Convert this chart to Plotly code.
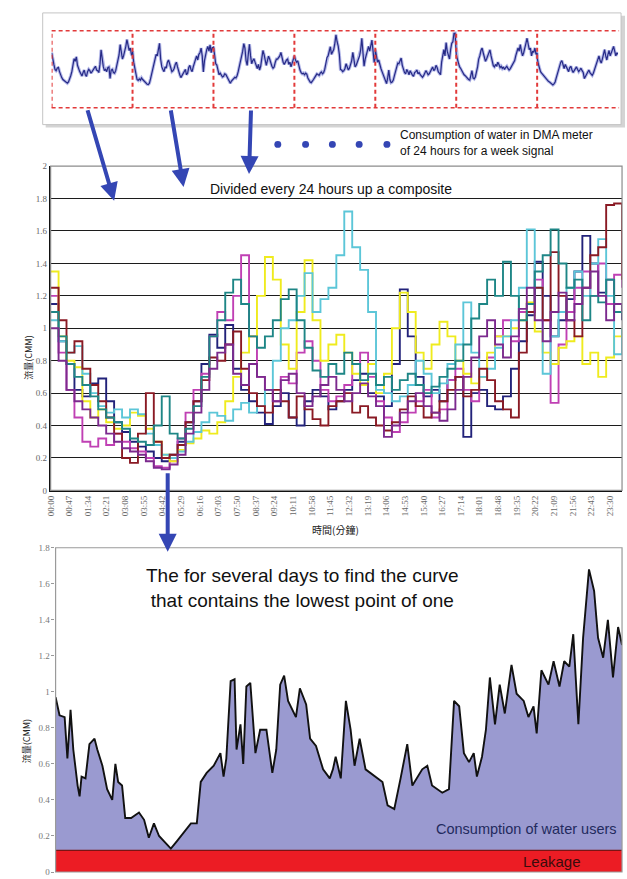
import plotly.graph_objects as go

W, H = 627, 879

# ---------------- data ----------------
# sample times within one day (minutes after midnight)
minutes = list(range(0, 1441, 20))

# flow (CMM) of each day
day_navy = [1.15, 0.92, 0.78, 0.62, 0.58, 0.66, 0.69, 0.55, 0.42, 0.36, 0.30, 0.27,
            0.24, 0.20, 0.18, 0.22, 0.30, 0.42, 0.55, 0.78, 0.96, 0.88, 1.02, 0.75,
            0.62, 0.55, 0.48, 0.41, 0.52, 0.60, 0.45, 0.40, 0.55, 0.62, 0.58, 0.50,
            0.55, 0.62, 0.68, 0.72, 0.60, 0.58, 0.52, 0.78, 1.24, 0.95, 0.70, 0.58,
            0.62, 0.55, 0.68, 0.70, 0.33, 0.60, 0.62, 0.52, 0.50, 0.58, 0.75, 0.92,
            1.08, 1.41, 1.20, 0.95, 1.05, 1.18, 1.35, 1.57, 1.40, 1.22, 1.30, 1.10, 1.05]
day_magenta = [1.20, 0.85, 0.62, 0.45, 0.30, 0.27, 0.32, 0.28, 0.35, 0.30, 0.26, 0.24,
               0.20, 0.15, 0.14, 0.18, 0.32, 0.48, 0.62, 0.72, 0.95, 1.10, 1.05, 1.20,
               1.45, 0.95, 0.70, 0.62, 0.55, 0.70, 0.66, 0.85, 0.92, 0.80, 0.62, 0.55,
               0.58, 0.65, 0.78, 0.85, 0.70, 0.55, 0.45, 0.36, 0.42, 0.48, 0.55, 0.62,
               0.45, 0.50, 0.68, 0.75, 0.62, 0.55, 0.70, 0.82, 0.95, 1.05, 0.92, 1.10,
               1.15, 1.30, 1.05, 0.54, 0.90, 1.10, 1.25, 1.35, 1.20, 1.40, 1.15, 1.33, 1.25]
day_yellow = [1.35, 0.95, 0.80, 0.76, 0.55, 0.45, 0.50, 0.42, 0.38, 0.40, 0.48, 0.46,
              0.38, 0.30, 0.22, 0.18, 0.25, 0.29, 0.32, 0.37, 0.35, 0.42, 0.55, 0.70,
              0.85, 0.95, 1.20, 1.44, 1.30, 0.90, 0.75, 1.10, 1.42, 1.05, 0.80, 0.90,
              0.96, 0.85, 0.72, 0.65, 0.78, 0.60, 0.72, 1.00, 1.22, 1.10, 0.85, 0.75,
              0.90, 1.04, 0.95, 0.80, 0.72, 0.66, 0.70, 0.85, 0.95, 0.95, 1.00, 1.05,
              1.16, 0.98, 0.85, 0.78, 0.88, 0.92, 0.95, 0.78, 0.85, 0.70, 0.82, 0.95, 1.00]
day_cyan = [1.05, 0.92, 0.85, 0.89, 0.72, 0.60, 0.52, 0.48, 0.50, 0.45, 0.50, 0.47,
            0.35, 0.28, 0.22, 0.20, 0.24, 0.30, 0.36, 0.42, 0.48, 0.46, 0.43, 0.50,
            0.54, 0.48, 0.52, 0.62, 0.80, 1.00, 1.05, 1.20, 1.34, 1.10, 1.18, 1.25,
            1.45, 1.72, 1.50, 1.36, 1.10, 0.62, 0.60, 0.55, 0.58, 0.65, 0.80, 0.72,
            0.60, 0.66, 0.78, 0.90, 1.16, 0.85, 0.70, 0.75, 0.88, 0.95, 1.05, 1.25,
            1.61, 1.25, 0.72, 0.95, 1.10, 1.25, 1.35, 1.20, 1.40, 1.55, 1.20, 0.84, 1.00]
day_darkred = [1.25, 1.05, 0.85, 0.92, 0.75, 0.65, 0.55, 0.45, 0.35, 0.20, 0.17, 0.35,
               0.60, 0.30, 0.20, 0.22, 0.28, 0.42, 0.55, 0.68, 0.82, 0.80, 0.90, 0.98,
               0.75, 0.60, 0.52, 0.48, 0.62, 0.55, 0.45, 0.58, 0.50, 0.44, 0.40, 0.52,
               0.55, 0.60, 0.48, 0.52, 0.45, 0.40, 0.37, 0.42, 0.50, 0.58, 0.52, 0.45,
               0.48, 0.55, 0.62, 0.70, 0.58, 0.62, 0.75, 0.68, 0.55, 0.50, 0.45, 0.85,
               1.10, 1.25, 1.05, 1.47, 1.20, 1.05, 0.95, 1.25, 1.45, 1.50, 1.76, 1.77, 1.30]
day_teal = [1.10, 0.95, 0.78, 0.70, 0.65, 0.58, 0.50, 0.45, 0.42, 0.38, 0.32, 0.30,
            0.28, 0.40, 0.58, 0.35, 0.32, 0.38, 0.52, 0.70, 0.95, 1.05, 1.22, 1.30,
            1.15, 0.95, 0.88, 0.95, 1.05, 1.18, 1.24, 1.05, 0.88, 0.74, 0.70, 0.78,
            0.72, 0.85, 0.78, 0.68, 0.72, 0.65, 0.70, 0.62, 0.68, 0.72, 0.65, 0.60,
            0.64, 0.70, 0.75, 0.80, 0.90, 1.06, 1.15, 1.30, 1.20, 1.41, 1.20, 1.05,
            1.15, 1.35, 1.45, 1.61, 1.40, 1.25, 1.30, 1.05, 1.20, 1.16, 1.30, 1.10, 1.15]
day_purple = [1.00, 0.80, 0.62, 0.55, 0.50, 0.45, 0.40, 0.35, 0.30, 0.26, 0.24, 0.22,
              0.18, 0.14, 0.13, 0.16, 0.22, 0.35, 0.48, 0.62, 0.75, 0.85, 0.90, 0.72,
              0.65, 0.78, 0.70, 0.62, 0.55, 0.68, 0.72, 0.60, 0.52, 0.58, 0.65, 0.70,
              0.62, 0.55, 0.60, 0.66, 0.58, 0.52, 0.33, 0.40, 0.48, 0.55, 0.60, 0.52,
              0.48, 0.43, 0.50, 0.62, 0.70, 0.82, 0.95, 1.05, 0.90, 0.82, 0.95, 1.12,
              1.25, 1.05, 0.92, 1.10, 1.22, 1.05, 1.15, 1.25, 1.35, 1.20, 1.05, 1.15, 1.10]

day_series = [day_navy, day_magenta, day_yellow, day_cyan, day_darkred, day_teal, day_purple]
day_colors = ["#22227a", "#c040b4", "#efeb1e", "#5cc6d8", "#8a1a24", "#1e8686", "#7c2a8e"]

time_labels = ["00:00", "00:47", "01:34", "02:21", "03:08", "03:55", "04:42", "05:29",
               "06:16", "07:03", "07:50", "08:37", "09:24", "10:11", "10:58", "11:45",
               "12:32", "13:19", "14:06", "14:53", "15:40", "16:27", "17:14", "18:01",
               "18:48", "19:35", "20:22", "21:09", "21:56", "22:43", "23:30"]

# the day curve with the lowest point
lowest_minutes = [0, 10, 23, 30, 38, 45, 56, 61, 66, 76, 86, 99, 106, 119, 131, 144, 152, 159,
                  169, 177, 192, 212, 225, 237, 250, 263, 280, 293, 308, 326, 344, 359, 369,
                  384, 402, 419, 427, 434, 445, 455, 460, 470, 477, 485, 495, 508, 520, 536,
                  551, 561, 571, 581, 591, 611, 621, 637, 647, 662, 680, 697, 705, 712, 725,
                  738, 750, 760, 773, 788, 813, 831, 844, 861, 877, 894, 907, 932, 945, 957,
                  983, 1000, 1013, 1026, 1038, 1051, 1063, 1071, 1084, 1094, 1104, 1117, 1129,
                  1142, 1159, 1172, 1190, 1202, 1215, 1223, 1235, 1253, 1266, 1281, 1293, 1306,
                  1316, 1329, 1341, 1356, 1369, 1379, 1392, 1404, 1417, 1430, 1440]
lowest_flow = [0.97, 0.87, 0.86, 0.63, 0.90, 0.68, 0.48, 0.42, 0.53, 0.52, 0.71, 0.74, 0.68,
               0.59, 0.46, 0.40, 0.60, 0.50, 0.48, 0.30, 0.30, 0.33, 0.29, 0.19, 0.27, 0.20,
               0.16, 0.13, 0.17, 0.22, 0.27, 0.27, 0.50, 0.55, 0.59, 0.66, 0.53, 0.63, 1.06,
               1.07, 0.68, 0.82, 0.60, 1.03, 1.05, 0.66, 0.79, 0.79, 0.55, 0.68, 1.04, 1.09,
               0.95, 0.86, 1.02, 0.93, 0.74, 0.70, 0.57, 0.52, 0.57, 0.64, 0.52, 0.95, 0.79,
               0.59, 0.74, 0.57, 0.53, 0.50, 0.37, 0.35, 0.52, 0.71, 0.48, 0.57, 0.59, 0.48,
               0.44, 0.46, 0.95, 0.92, 0.66, 0.61, 0.66, 0.53, 0.64, 0.79, 1.08, 0.82, 1.04,
               0.88, 1.15, 0.99, 0.95, 0.86, 0.92, 0.77, 1.12, 1.04, 1.17, 1.03, 1.17, 1.14,
               1.32, 0.82, 1.30, 1.68, 1.56, 1.30, 1.19, 1.40, 1.08, 1.36, 1.26]
leakage_level = 0.12

# ---------------- helpers ----------------
def px(x):
    return x / W

def py(y):
    return 1 - y / H

SANS = "Liberation Sans, Arial, sans-serif"
SERIF = "Liberation Serif, Times New Roman, serif"
CJK = "Noto Sans CJK TC, sans-serif"
ARROW = "#3446b4"

fig = go.Figure()

# ---- top panel: one week signal (7 days joined) ----
week_t, week_v = [], []
for d, s in enumerate(day_series):
    week_t += [d * 1440 + m for m in minutes]
    week_v += s
fig.add_trace(go.Scatter(x=week_t, y=week_v, xaxis="x3", yaxis="y3", mode="lines",
                         line=dict(color="rgba(120,128,215,0.55)", width=3.2),
                         hoverinfo="skip"))
fig.add_trace(go.Scatter(x=week_t, y=week_v, xaxis="x3", yaxis="y3", mode="lines",
                         line=dict(color="#262a86", width=1.2)))

# ---- middle composite ----
for s, c in zip(day_series, day_colors):
    fig.add_trace(go.Scatter(x=minutes, y=s, mode="lines", line=dict(color=c, width=1.9),
                             line_shape="hv", xaxis="x", yaxis="y"))

# ---- bottom chart ----
fig.add_trace(go.Scatter(x=lowest_minutes, y=lowest_flow, mode="lines", fill="tozeroy",
                         fillcolor="#9a9ad0", line=dict(color="#111111", width=1.9),
                         xaxis="x2", yaxis="y2"))
fig.add_trace(go.Scatter(x=[0, 1440], y=[leakage_level, leakage_level], mode="lines",
                         fill="tozeroy", fillcolor="#ec1c24",
                         line=dict(color="#7a1414", width=1.2), xaxis="x2", yaxis="y2"))

tick_minutes = [int(t[:2]) * 60 + int(t[3:]) for t in time_labels]

fig.update_layout(
    width=W, height=H, margin=dict(l=0, r=0, t=0, b=0),
    paper_bgcolor="white", plot_bgcolor="white", showlegend=False,
    xaxis=dict(domain=[px(46), px(622)], anchor="y", range=[0, 1440],
               tickvals=tick_minutes, ticktext=time_labels, tickangle=-90,
               tickfont=dict(family=SERIF, size=9, color="#666666"),
               showgrid=False, zeroline=False, showline=True, linecolor="#111111",
               linewidth=1.5, ticks=""),
    yaxis=dict(domain=[py(491), py(163)], anchor="x", range=[0, 2], dtick=0.2,
               tickfont=dict(family=SERIF, size=9, color="#666666"),
               showgrid=True, gridcolor="#1c1c1c", gridwidth=1.3, zeroline=False,
               showline=True, linecolor="#111111", linewidth=1.5, ticks=""),
    xaxis2=dict(domain=[px(51), px(622)], anchor="y2", range=[0, 1440],
                showticklabels=False, showgrid=False, zeroline=False, showline=False),
    yaxis2=dict(domain=[py(877), py(549)], anchor="x2", range=[0, 1.8], dtick=0.2,
                tickfont=dict(family=SERIF, size=9, color="#777777"),
                showgrid=False, zeroline=False, showline=True, linecolor="#111111",
                linewidth=1.3, ticks="outside", ticklen=3, tickcolor="#999999"),
    xaxis3=dict(domain=[px(47), px(618)], anchor="y3", range=[0, 7 * 1440], visible=False),
    yaxis3=dict(domain=[py(104), py(26)], anchor="x3", range=[-0.6, 1.85], visible=False),
)

shapes = []
# top box with shadow
shapes.append(dict(type="rect", xref="paper", yref="paper", x0=px(41), x1=px(625),
                   y0=py(124), y1=py(11), fillcolor="#d4d4d4", line=dict(width=0),
                   layer="below"))
shapes.append(dict(type="rect", xref="paper", yref="paper", x0=px(38), x1=px(621),
                   y0=py(121), y1=py(8), fillcolor="white",
                   line=dict(color="#c4c4c4", width=1), layer="below"))
for yy in (26, 104):
    shapes.append(dict(type="line", xref="paper", yref="paper", x0=px(47), x1=px(619),
                       y0=py(yy), y1=py(yy), line=dict(color="#e23a3a", width=1.5, dash="4px,3px")))
for d in range(7):
    shapes.append(dict(type="line", xref="x3", yref="paper", x0=d * 1440, x1=d * 1440,
                       y0=py(104), y1=py(26), line=dict(color="#e23a3a", width=2, dash="4px,3px")))
# borders of the two charts (top/right in grey)
shapes.append(dict(type="rect", xref="paper", yref="paper", x0=px(46), x1=px(622),
                   y0=py(491), y1=py(163), line=dict(color="#8c8c8c", width=1.2)))
shapes.append(dict(type="rect", xref="paper", yref="paper", x0=px(51), x1=px(622),
                   y0=py(877), y1=py(549), line=dict(color="#9a9a9a", width=1.2)))
# blue dots
for xx in (275, 303, 330, 357, 385):
    shapes.append(dict(type="circle", xref="paper", yref="paper",
                       x0=px(xx - 3.5), x1=px(xx + 3.5), y0=py(141 + 3.5), y1=py(141 - 3.5),
                       fillcolor=ARROW, line=dict(width=0)))
fig.update_layout(shapes=shapes)

ann = []
def arrow(tx, ty, hx, hy):
    ann.append(dict(x=px(hx), y=py(hy), xref="paper", yref="paper", text="",
                    showarrow=True, ax=tx - hx, ay=ty - hy, arrowhead=2, arrowsize=0.9,
                    arrowwidth=4, arrowcolor=ARROW, standoff=0))

arrow(83, 106, 110, 198)
arrow(167, 106, 180, 184)
arrow(248, 106, 246, 171)
arrow(164, 473, 164, 553)

def text(t, x, y, size, color="#111111", xanchor="center", family=SANS, angle=0, align="center"):
    ann.append(dict(x=px(x), y=py(y), xref="paper", yref="paper", text=t, showarrow=False,
                    xanchor=xanchor, yanchor="middle", textangle=angle, align=align,
                    font=dict(family=family, size=size, color=color)))

text("Consumption of water in DMA meter<br>of 24 hours for a week signal", 396, 140, 12,
     xanchor="left", align="left")
text("Divided every 24 hours up a composite", 205, 186, 14, xanchor="left")
text("The for several days to find the curve<br>that contains the lowest point of one",
     300, 590, 19)
text("Consumption of water users", 619, 833, 14.5, color="#232a5e", xanchor="right")
text("Leakage", 551, 866, 15, color="#3a0c0c")
text("時間(分鐘)", 333, 531, 10, color="#222222", family=CJK)
text("流量(CMM)", 24, 357, 9, color="#222222", family=CJK, angle=-90)
text("流量(CMM)", 22, 745, 9, color="#222222", family=CJK, angle=-90)
fig.update_layout(annotations=ann)

fig.write_html("out.html", include_plotlyjs=True, config={"displayModeBar": False},
               post_script="document.body.style.margin='0';document.body.style.padding='0';")
